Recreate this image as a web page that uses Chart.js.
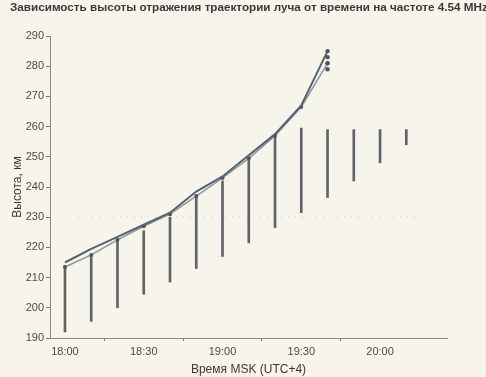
<!DOCTYPE html>
<html>
<head>
<meta charset="utf-8">
<script src="https://cdn.jsdelivr.net/npm/chart.js@4/dist/chart.umd.min.js"></script>
<style>
  html, body { margin: 0; padding: 0; background: #f6f4eb; }
  #wrap { width: 486px; height: 377px; }
</style>
</head>
<body>
<div id="wrap"><canvas id="c" width="486" height="377"></canvas></div>
<script>
// minutes after 18:00
const barTimes = [0, 10, 20, 30, 40, 50, 60, 70, 80, 90, 100, 110, 120, 130];
const barLow   = [192, 195.5, 200, 204.5, 208.5, 213, 217, 221.5, 226.5, 231.5, 236.5, 242, 248, 254];
const barHigh  = [214, 217, 222.5, 225.5, 230, 237, 242, 249, 256.5, 259.5, 259, 259, 259, 259];

const lineTimes = [0, 10, 20, 30, 40, 50, 60, 70, 80, 90, 100];
const lineA = [215, 219.5, 223.5, 227.5, 231.5, 238.5, 243.5, 250.5, 257.5, 267, 285];
const lineB = [213.5, 217.5, 222.5, 227, 231, 237, 243, 249.5, 257, 266.5, 281];

const clusterTime = [100, 100, 100, 100];
const clusterVals = [279, 281, 283, 285];

const refTimes = [5, 135];
const refVals = [230, 230];

const xTickValues = [0, 30, 60, 90, 120];
const xTickLabels = ['18:00', '18:30', '19:00', '19:30', '20:00'];

const titleText = 'Зависимость высоты отражения траектории луча от времени на частоте 4.54 MHz';
const yTitle = 'Высота, км';
const xTitle = 'Время MSK (UTC+4)';

const FONT = "'Liberation Sans', Arial, sans-serif";

const titlePlugin = {
  id: 'leftTitle',
  afterDraw(chart) {
    const ctx = chart.ctx;
    ctx.save();
    ctx.font = "bold 11.7px 'Liberation Sans', Arial, sans-serif";
    ctx.fillStyle = '#3a3a3a';
    ctx.textAlign = 'left';
    ctx.textBaseline = 'middle';
    ctx.fillText(titleText, 10, 8);
    ctx.restore();
  }
};

new Chart(document.getElementById('c'), {
  data: {
    datasets: [
      {
        type: 'line',
        data: refTimes.map((t, i) => ({ x: t, y: refVals[i] })),
        borderColor: 'rgba(120,120,120,0.35)',
        borderWidth: 1,
        borderDash: [1, 6],
        pointRadius: 0,
        order: 5
      },
      {
        type: 'bar',
        data: barTimes.map((t, i) => ({ x: t, y: [barLow[i], barHigh[i]] })),
        backgroundColor: '#606468',
        borderWidth: 0,
        barThickness: 2,
        order: 4
      },
      {
        type: 'line',
        data: lineTimes.map((t, i) => ({ x: t, y: lineB[i] })),
        borderColor: '#8a96a4',
        borderWidth: 1.5,
        pointRadius: 2,
        pointBackgroundColor: '#4d5560',
        pointBorderWidth: 0,
        tension: 0,
        order: 2
      },
      {
        type: 'line',
        data: lineTimes.map((t, i) => ({ x: t, y: lineA[i] })),
        borderColor: '#56626f',
        borderWidth: 2,
        pointRadius: 0,
        tension: 0,
        order: 1
      },
      {
        type: 'scatter',
        data: clusterTime.map((t, i) => ({ x: t, y: clusterVals[i] })),
        pointRadius: 2.2,
        backgroundColor: '#4d5560',
        borderWidth: 0,
        order: 0
      }
    ]
  },
  plugins: [titlePlugin],
  options: {
    responsive: false,
    animation: false,
    events: [],
    layout: { padding: { left: 10, right: 39, top: 36, bottom: 0 } },
    plugins: {
      legend: { display: false },
      tooltip: { enabled: false },
      title: { display: false }
    },
    scales: {
      x: {
        type: 'linear',
        min: -5.7,
        max: 145.5,
        offset: false,
        afterBuildTicks: (s) => { s.ticks = xTickValues.map(v => ({ value: v })); },
        afterFit: (s) => { s.height = 39; },
        ticks: {
          autoSkip: false,
          maxRotation: 0,
          padding: 4,
          color: '#4a4a4a',
          font: { family: FONT, size: 11 },
          callback: (v) => { const i = xTickValues.indexOf(v); return i >= 0 ? xTickLabels[i] : ''; }
        },
        grid: {
          drawOnChartArea: false, drawTicks: true, tickLength: 3,
          tickColor: (c) => (c.tick && xTickValues.includes(c.tick.value)) ? '#777' : 'rgba(0,0,0,0)'
        },
        border: { display: true, color: '#8a8a8a', width: 1, dash: [1, 1] },
        title: {
          display: true,
          text: xTitle,
          color: '#3a3a3a',
          font: { family: FONT, size: 12 },
          padding: { top: 0, bottom: 0 }
        }
      },
      y: {
        type: 'linear',
        min: 190,
        max: 290,
        afterFit: (s) => { s.width = 40; },
        ticks: {
          stepSize: 10,
          padding: 2,
          color: '#4a4a4a',
          font: { family: FONT, size: 11 }
        },
        grid: { drawOnChartArea: false, drawTicks: true, tickLength: 4, color: '#777' },
        border: { display: true, color: '#8a8a8a', width: 1, dash: [1, 1] },
        title: {
          display: true,
          text: yTitle,
          color: '#3a3a3a',
          font: { family: FONT, size: 12 },
          padding: { top: 0, bottom: 0 }
        }
      }
    }
  }
});
</script>
</body>
</html>
